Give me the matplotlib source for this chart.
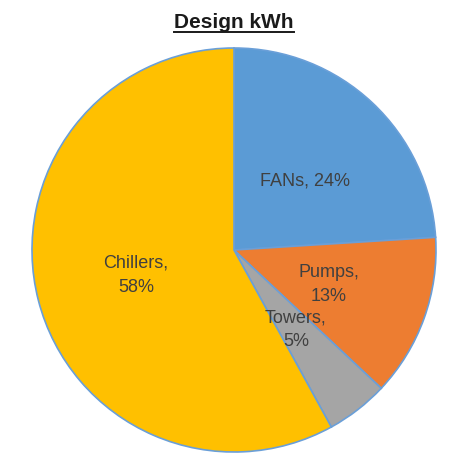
import matplotlib
matplotlib.use("Agg")
import matplotlib.pyplot as plt
from matplotlib.lines import Line2D
import numpy as np

categories = ["FANs", "Pumps", "Towers", "Chillers"]
values = [24, 13, 5, 58]
colors = ["#5B9BD5", "#ED7D31", "#A5A5A5", "#FFC000"]
label_texts = ["FANs, 24%", "Pumps,\n13%", "Towers,\n5%", "Chillers,\n58%"]
title = "Design kWh"

W, H = 469, 465
fig = plt.figure(figsize=(W / 100, H / 100), dpi=100)
cx, cy, r = 234, 250, 202
ax = fig.add_axes([(cx - r) / W, (H - cy - r) / H, 2 * r / W, 2 * r / H])

wedges, texts = ax.pie(values, colors=colors, startangle=90, counterclock=False,
                       labels=label_texts, labeldistance=0.5,
                       wedgeprops=dict(edgecolor="#6A9FD8", linewidth=1.2),
                       textprops=dict(fontsize=13, color="#404040",
                                      family="Liberation Sans",
                                      ha="center", va="center", linespacing=1.55))
for t in texts:
    t.set_ha("center")
    t.set_va("center")
theta = np.deg2rad((wedges[0].theta1 + wedges[0].theta2) / 2 - 3)
texts[0].set_position((0.49 * np.cos(theta), 0.49 * np.sin(theta)))

ax.set_xlim(-1, 1)
ax.set_ylim(-1, 1)
ax.set_aspect("equal")
ax.axis("off")

tt = fig.text(cx / W, 1 - 22 / H, title, ha="center", va="center",
              fontsize=15, fontweight="bold", family="Liberation Sans", color="#1a1a1a")
fig.canvas.draw()
bb = tt.get_window_extent()
y_line = bb.y0 - 1
fig.add_artist(Line2D([bb.x0 / W, bb.x1 / W], [y_line / H, y_line / H],
                      transform=fig.transFigure, color="#1a1a1a", linewidth=1.4))

fig.savefig("out.png", dpi=100, facecolor="white")
